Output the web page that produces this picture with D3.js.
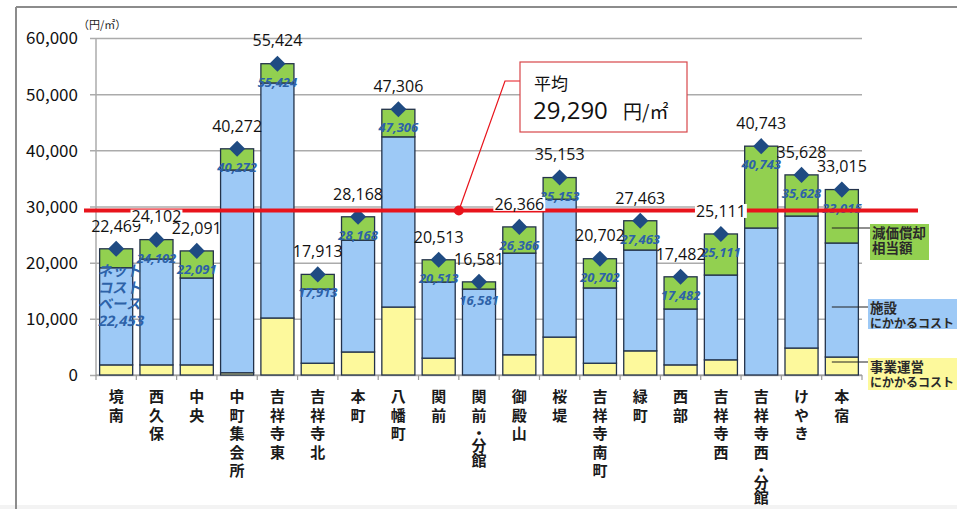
<!DOCTYPE html>
<html>
<head>
<meta charset="utf-8">
<script src="https://cdn.jsdelivr.net/npm/d3@7/dist/d3.min.js"></script>
<style>
  html, body { margin: 0; padding: 0; background: #fff; }
  svg { display: block; font-family: "Noto Sans CJK JP", "Noto Sans", sans-serif; }
  .vlabel { writing-mode: vertical-rl; }
</style>
</head>
<body>
<svg id="chart" width="957" height="509"></svg>
<script>
// 施設別 1㎡あたりコスト（円/㎡）
const categories = ["境南", "西久保", "中央", "中町集会所", "吉祥寺東", "吉祥寺北", "本町", "八幡町", "関前", "関前・分館",
  "御殿山", "桜堤", "吉祥寺南町", "緑町", "西部", "吉祥寺西", "吉祥寺西・分館", "けやき", "本宿"];
// 事業運営にかかるコスト
const operatingCost = [1800, 1800, 1800, 400, 10150, 2100, 4100, 12100, 3000, 0,
  3600, 6750, 2100, 4300, 1800, 2700, 0, 4800, 3200];
// 施設にかかるコスト
const facilityCost = [17300, 18850, 15470, 36100, 41850, 13200, 19900, 30300, 13550, 15300,
  18100, 24550, 13400, 17950, 9950, 15100, 26170, 23500, 20300];
// 減価償却相当額
const depreciation = [3369, 3452, 4821, 3772, 3424, 2613, 4168, 4906, 3963, 1281,
  4666, 3853, 5202, 5213, 5732, 7311, 14573, 7328, 9515];
// 合計（フルコスト）
const totals = [22469, 24102, 22091, 40272, 55424, 17913, 28168, 47306, 20513, 16581,
  26366, 35153, 20702, 27463, 17482, 25111, 40743, 35628, 33015];
const average = 29290;
const netCostBase = 22453;
const yTicks = [0, 10000, 20000, 30000, 40000, 50000, 60000];
const seriesKeys = ["operating", "facility", "depreciation"];
const legendLabels = {
  depreciation: ["減価償却", "相当額"],
  facility: ["施設", "にかかるコスト"],
  operating: ["事業運営", "にかかるコスト"]
};

const colors = { operating: "#fdf99c", facility: "#9dc9f6", depreciation: "#92d050" };
const fmt = d3.format(",");

const svg = d3.select("#chart");
const plotL = 96, plotR = 862, plotT = 38, plotB = 375;

const x = d3.scaleBand().domain(categories).range([plotL, plotR]).paddingInner(0.18).paddingOuter(0.09);
const y = d3.scaleLinear().domain([0, 60000]).range([plotB, plotT]);

// outer frame
svg.append("rect").attr("x", 0).attr("y", 505).attr("width", 957).attr("height", 4).attr("fill", "#f3f3f3");
svg.append("line").attr("x1", 16).attr("x2", 957).attr("y1", 7).attr("y2", 7).attr("stroke", "#8c8c8c").attr("stroke-width", 2);
svg.append("line").attr("x1", 16).attr("x2", 16).attr("y1", 7).attr("y2", 509).attr("stroke", "#8c8c8c").attr("stroke-width", 2);

// gridlines + y axis
const yAxis = d3.axisLeft(y).tickValues(yTicks).tickFormat(fmt).tickSize(-(plotR - plotL) - 6).tickPadding(12);
const gy = svg.append("g").attr("transform", `translate(${plotL - 6},0)`).call(yAxis);
gy.select(".domain").remove();
gy.selectAll(".tick line").attr("stroke", "#ababab").attr("stroke-width", 1.5);
gy.selectAll(".tick text").attr("font-size", 17).attr("fill", "#111")
  .attr("font-family", "'Noto Sans CJK JP', sans-serif").attr("dy", "0.35em");
svg.append("line").attr("x1", plotL).attr("x2", plotL).attr("y1", plotT).attr("y2", plotB)
  .attr("stroke", "#ababab").attr("stroke-width", 1.5);

svg.append("text").attr("x", 78).attr("y", 29).attr("font-size", 11).attr("fill", "#222").text("（円/㎡）");

// x axis line and band ticks
svg.append("line").attr("x1", plotL).attr("x2", plotR).attr("y1", plotB).attr("y2", plotB)
  .attr("stroke", "#999").attr("stroke-width", 1.2);
const bounds = categories.map(c => x(c) - x.step() * x.paddingInner() / 2).concat([plotR]);
svg.append("g").selectAll("line").data(bounds).join("line")
  .attr("x1", d => d).attr("x2", d => d).attr("y1", plotB).attr("y2", plotB + 5)
  .attr("stroke", "#999").attr("stroke-width", 1.2);

// stacked bars
const rows = categories.map((c, i) => ({
  cat: c, operating: operatingCost[i], facility: facilityCost[i], depreciation: depreciation[i], total: totals[i]
}));
const stack = d3.stack().keys(seriesKeys)(rows);
svg.append("g").selectAll("g").data(stack).join("g")
  .attr("fill", d => colors[d.key])
  .selectAll("rect").data(d => d.filter(s => s[1] > s[0])).join("rect")
  .attr("x", d => x(d.data.cat))
  .attr("y", d => y(d[1]))
  .attr("width", x.bandwidth())
  .attr("height", d => y(d[0]) - y(d[1]))
  .attr("stroke", "#23324a").attr("stroke-width", 1.3);

// inner total labels (blue italic)
const innerColor = "#2d62a8";
svg.append("g").selectAll("text").data(rows.slice(1)).join("text")
  .attr("x", d => x(d.cat) + x.bandwidth() / 2)
  .attr("y", d => y(d.total) + 23)
  .attr("text-anchor", "middle")
  .attr("font-size", 13).attr("font-style", "italic").attr("font-weight", 700)
  .attr("font-family", "'Open Sans', sans-serif")
  .attr("fill", innerColor)
  .text(d => fmt(d.total));

// net-cost annotation on the first bar
const netLines = ["ネット", "コスト", "ベース", fmt(netCostBase)];
svg.append("g").selectAll("text").data(netLines).join("text")
  .attr("transform", (d, i) => `translate(${x(categories[0]) - 2},${276 + i * 16.5}) skewX(-12)`)
  .attr("font-size", 14.5).attr("font-weight", 700)
  .attr("font-family", (d, i) => i === 3 ? "'Open Sans', sans-serif" : null)
  .attr("fill", innerColor)
  .text(d => d);

// diamonds at totals
svg.append("g").selectAll("path").data(rows).join("path")
  .attr("d", d3.symbol(d3.symbolSquare, 130))
  .attr("transform", d => `translate(${x(d.cat) + x.bandwidth() / 2},${y(d.total)}) rotate(45)`)
  .attr("fill", "#1f4b82");

// average line
const avgY = y(average);
svg.append("line").attr("x1", 84).attr("x2", 918).attr("y1", avgY).attr("y2", avgY)
  .attr("stroke", "#e8141c").attr("stroke-width", 4);

// total labels above the markers; a white backing where a label crosses the average line
const tl = svg.append("g").selectAll("g").data(rows).join("g")
  .attr("transform", d => `translate(${x(d.cat) + x.bandwidth() / 2},${y(d.total) - 23})`);
tl.append("text").attr("text-anchor", "middle").attr("dy", "0.36em")
  .attr("font-size", 16).attr("fill", "#111")
  .attr("font-family", "'Open Sans', sans-serif")
  .text(d => fmt(d.total));
tl.each(function (d) {
  const cy = y(d.total) - 23;
  if (Math.abs(cy - avgY) < 9) {
    const bb = d3.select(this).select("text").node().getBBox();
    d3.select(this).insert("rect", "text")
      .attr("x", bb.x - 1).attr("y", -7).attr("width", bb.width + 2).attr("height", 14).attr("fill", "#fff");
  }
});

// category labels, set vertically; the middle dot is set tighter
const xl = svg.append("g").selectAll("text").data(categories).join("text")
  .attr("class", "vlabel")
  .attr("x", c => x(c) + x.bandwidth() / 2)
  .attr("y", 389)
  .attr("font-size", 15).attr("font-weight", 700).attr("fill", "#1a1a1a");
xl.each(function (c) {
  const t = d3.select(this);
  const parts = c.split("・");
  t.append("tspan").attr("letter-spacing", 3.5).text(parts[0]);
  if (parts.length > 1) {
    t.append("tspan").attr("letter-spacing", -3).text("・");
    t.append("tspan").attr("letter-spacing", 0).text(parts[1]);
  }
});

// average callout
const dotX = x(categories[9]) - x.step() * x.paddingInner() / 2;
svg.append("path")
  .attr("d", `M${dotX},${avgY} L505,81 L520,81`)
  .attr("fill", "none").attr("stroke", "#e8141c").attr("stroke-width", 1.2);
svg.append("circle").attr("cx", dotX).attr("cy", avgY).attr("r", 5).attr("fill", "#e8141c");
svg.append("rect").attr("x", 520).attr("y", 62).attr("width", 167).attr("height", 70)
  .attr("fill", "#fff").attr("stroke", "#d8464a").attr("stroke-width", 1.2);
svg.append("text").attr("x", 534).attr("y", 90).attr("font-size", 17).attr("fill", "#111").text("平均");
svg.append("text").attr("x", 533).attr("y", 119).attr("font-size", 24).attr("fill", "#111")
  .attr("font-family", "'Open Sans', sans-serif").text(fmt(average));
svg.append("text").attr("x", 623).attr("y", 119).attr("font-size", 19).attr("fill", "#111").text("円/㎡");

// legend labels (two lines each) with leader lines from the last bar
const lastX = x(categories[categories.length - 1]) + x.bandwidth() / 2;
const legendBoxes = [
  { key: "depreciation", x: 870, y: 224, w: 59, h: 36, lineY: 228 },
  { key: "facility", x: 868, y: 299, w: 89, h: 30, lineY: 307 },
  { key: "operating", x: 868, y: 358, w: 89, h: 32, lineY: 362 }
];
legendBoxes.forEach(b => {
  svg.append("line").attr("x1", lastX - 10).attr("x2", b.x).attr("y1", b.lineY).attr("y2", b.lineY)
    .attr("stroke", "#222").attr("stroke-width", 1.2);
  svg.append("rect").attr("x", b.x).attr("y", b.y).attr("width", b.w).attr("height", b.h).attr("fill", colors[b.key]);
  const t = svg.append("text").attr("font-weight", 700).attr("fill", "#2a2a2a");
  legendLabels[b.key].forEach((line, i) => {
    const n = Array.from(line).length;
    t.append("tspan").attr("x", b.x + 2).attr("y", b.y + 14 + i * 15)
      .attr("font-size", n > 5 ? 12 : 13.5).text(line);
  });
});
</script>
</body>
</html>
